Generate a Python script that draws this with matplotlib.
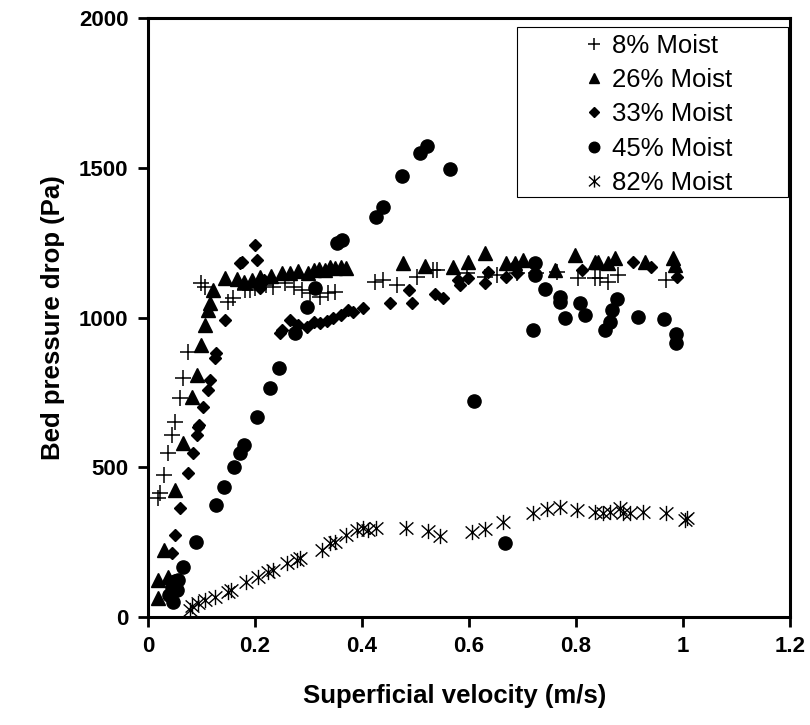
import matplotlib
matplotlib.use("Agg")
import matplotlib.pyplot as plt
from matplotlib.path import Path
from matplotlib.patches import Rectangle

# ── Dados ─────────────────────────────────────────────────────
x8 = [0.019, 0.022, 0.029, 0.038, 0.044, 0.050, 0.059, 0.065, 0.075, 0.100,
      0.107, 0.150, 0.159, 0.181, 0.191, 0.200, 0.220, 0.234, 0.256, 0.272,
      0.287, 0.303, 0.321, 0.337, 0.350, 0.424, 0.440, 0.465, 0.503, 0.533,
      0.540, 0.596, 0.630, 0.652, 0.689, 0.726, 0.764, 0.804, 0.836, 0.845,
      0.860, 0.879, 0.969]
p8 = [396, 413, 474, 547, 608, 652, 730, 797, 886, 1114,
      1103, 1053, 1064, 1092, 1092, 1100, 1110, 1103, 1114, 1103,
      1092, 1081, 1070, 1081, 1086, 1120, 1125, 1110, 1135, 1158,
      1158, 1148, 1136, 1142, 1148, 1148, 1153, 1131, 1132, 1131,
      1120, 1142, 1125]

x26 = [0.019, 0.019, 0.029, 0.038, 0.050, 0.065, 0.082, 0.091, 0.100, 0.107,
       0.113, 0.116, 0.122, 0.144, 0.166, 0.180, 0.195, 0.210, 0.230, 0.250,
       0.265, 0.280, 0.300, 0.310, 0.320, 0.330, 0.340, 0.350, 0.360, 0.370,
       0.477, 0.518, 0.571, 0.599, 0.630, 0.670, 0.686, 0.701, 0.761, 0.798,
       0.836, 0.842, 0.860, 0.873, 0.929, 0.982, 0.985]
p26 = [62, 124, 224, 135, 424, 580, 736, 808, 908, 975,
       1025, 1048, 1092, 1131, 1130, 1120, 1125, 1135, 1140, 1150,
       1148, 1155, 1150, 1160, 1162, 1158, 1170, 1165, 1170, 1165,
       1181, 1172, 1170, 1186, 1214, 1181, 1181, 1192, 1158, 1209,
       1186, 1186, 1181, 1198, 1186, 1198, 1175]

x33 = [0.044, 0.050, 0.060, 0.075, 0.084, 0.091, 0.094, 0.096, 0.103, 0.113,
       0.116, 0.125, 0.128, 0.144, 0.172, 0.176, 0.200, 0.203, 0.210, 0.216,
       0.247, 0.250, 0.265, 0.280, 0.297, 0.310, 0.321, 0.335, 0.346, 0.360,
       0.374, 0.383, 0.402, 0.452, 0.487, 0.493, 0.536, 0.552, 0.580, 0.583,
       0.599, 0.630, 0.636, 0.670, 0.686, 0.689, 0.811, 0.907, 0.941, 0.988]
p33 = [213, 274, 363, 480, 547, 608, 635, 641, 702, 758,
       791, 864, 880, 992, 1181, 1185, 1242, 1192, 1100, 1125,
       948, 958, 991, 975, 969, 985, 981, 990, 997, 1010,
       1025, 1020, 1031, 1049, 1092, 1049, 1077, 1064, 1125, 1108,
       1131, 1114, 1153, 1136, 1175, 1148, 1158, 1186, 1170, 1136]

x45 = [0.040, 0.044, 0.047, 0.050, 0.054, 0.057, 0.066, 0.090, 0.127, 0.142,
       0.161, 0.172, 0.179, 0.203, 0.228, 0.244, 0.275, 0.297, 0.312, 0.353,
       0.362, 0.427, 0.440, 0.474, 0.508, 0.521, 0.565, 0.610, 0.667, 0.720,
       0.723, 0.723, 0.742, 0.770, 0.770, 0.779, 0.807, 0.817, 0.854, 0.864,
       0.868, 0.876, 0.915, 0.964, 0.987, 0.987]
p45 = [75, 101, 51, 120, 90, 124, 168, 251, 374, 435,
       502, 547, 574, 669, 764, 830, 947, 1036, 1100, 1248,
       1259, 1337, 1370, 1472, 1548, 1573, 1497, 720, 248, 960,
       1142, 1181, 1097, 1070, 1053, 997, 1047, 1008, 960, 986,
       1025, 1061, 1001, 995, 945, 916]

x82 = [0.079, 0.082, 0.094, 0.107, 0.125, 0.150, 0.156, 0.184, 0.206, 0.225,
       0.234, 0.259, 0.278, 0.284, 0.325, 0.340, 0.350, 0.371, 0.390, 0.402,
       0.412, 0.427, 0.483, 0.524, 0.546, 0.605, 0.630, 0.664, 0.720, 0.745,
       0.770, 0.801, 0.836, 0.851, 0.864, 0.882, 0.888, 0.901, 0.926, 0.969,
       1.004, 1.007]
p82 = [23, 35, 46, 57, 68, 85, 90, 118, 135, 151,
       157, 179, 190, 196, 224, 246, 251, 274, 290, 296,
       290, 296, 296, 288, 270, 285, 293, 318, 348, 360,
       368, 357, 352, 346, 352, 363, 346, 346, 352, 346,
       324, 330]

xticks = [0, 0.2, 0.4, 0.6, 0.8, 1.0, 1.2]
xtick_labels = ["0", "0.2", "0.4", "0.6", "0.8", "1", "1.2"]
yticks = [0, 500, 1000, 1500, 2000]

# ── Marcador estrela (X + barra vertical) ─────────────────────
star = Path([(-0.9, -0.8), (0.9, 0.8), (-0.9, 0.8), (0.9, -0.8),
             (0, -1), (0, 1)],
            [Path.MOVETO, Path.LINETO] * 3)

plt.rcParams["font.family"] = ["Liberation Sans", "DejaVu Sans"]

fig = plt.figure(figsize=(8.1, 7.25), dpi=100)
ax = fig.add_axes([0.1827, 0.149, 0.7926, 0.826])

ax.plot(x8, p8, ls="none", marker="+", ms=11, mew=1.1, color="black", label="8% Moist")
ax.plot(x26, p26, ls="none", marker="^", ms=9.5, color="black", label="26% Moist")
ax.plot(x33, p33, ls="none", marker="D", ms=6.5, color="black", label="33% Moist")
ax.plot(x45, p45, ls="none", marker="o", ms=9.5, color="black", label="45% Moist")
ax.plot(x82, p82, ls="none", marker=star, ms=11, mew=1.0, color="black",
        markerfacecolor="none", label="82% Moist")

ax.set_xlim(0, 1.2)
ax.set_ylim(0, 2000)
ax.set_xticks(xticks)
ax.set_xticklabels(xtick_labels)
ax.set_yticks(yticks)

for s in ax.spines.values():
    s.set_linewidth(2.2)
ax.tick_params(direction="out", length=7, width=2, labelsize=16, pad=7)
for lbl in ax.get_xticklabels() + ax.get_yticklabels():
    lbl.set_fontweight("bold")

ax.set_xlabel("Superficial velocity (m/s)", fontsize=18.5, fontweight="bold")
ax.set_ylabel("Bed pressure drop (Pa)", fontsize=18.5, fontweight="bold", labelpad=10)
ax.xaxis.set_label_coords(0.478, -0.112)

# ── Legenda (caixa à parte, conteúdo centralizado) ────────────
ax.add_patch(Rectangle((0.575, 0.701), 0.422, 0.284, transform=ax.transAxes,
                       facecolor="white", edgecolor="black", lw=0.8, zorder=4))
leg = ax.legend(loc="upper left", bbox_to_anchor=(0.674, 0.974), fontsize=18.5,
                frameon=False, handletextpad=0.2, handlelength=1.0,
                borderpad=0, borderaxespad=0, labelspacing=0.4, markerscale=0.8)
leg.set_zorder(5)

plt.savefig("out.png", dpi=100)
